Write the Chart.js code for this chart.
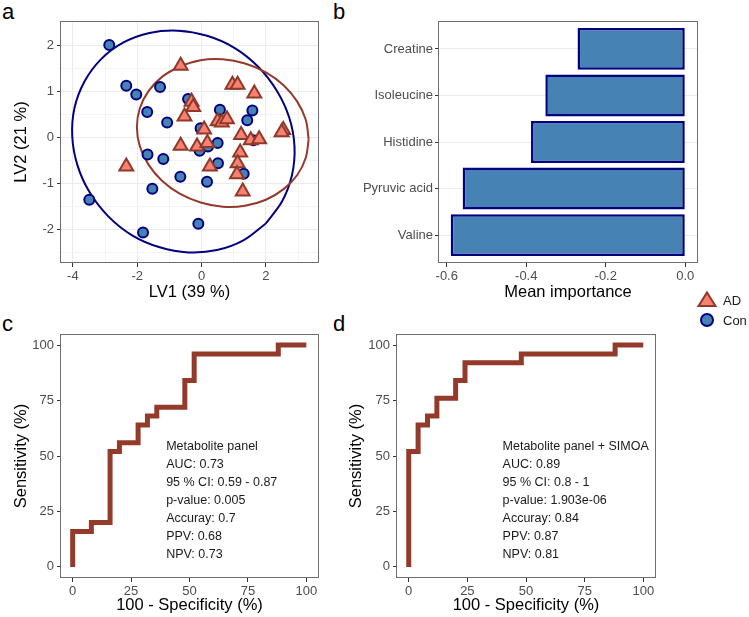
<!DOCTYPE html>
<html>
<head>
<meta charset="utf-8">
<script src="https://cdn.jsdelivr.net/npm/chart.js@4.4.1/dist/chart.umd.min.js"></script>
<style>
body { margin: 0; background: #fff; width: 749px; height: 617px; position: relative; overflow: hidden; font-family: 'Liberation Sans', Arial, sans-serif; }
canvas { position: absolute; }
.tag { position: absolute; font-size: 22px; line-height: 22px; color: #000; }
</style>
</head>
<body>
<div class="tag" style="left:2px;top:1px">a</div>
<div class="tag" style="left:333px;top:1px">b</div>
<div class="tag" style="left:2px;top:313px">c</div>
<div class="tag" style="left:333px;top:313px">d</div>

<canvas id="pls" width="335" height="310" style="left:0;top:0"></canvas>
<canvas id="vip" width="414" height="310" style="left:335px;top:0"></canvas>
<canvas id="rocC" width="335" height="307" style="left:0;top:310px"></canvas>
<canvas id="rocD" width="414" height="307" style="left:335px;top:310px"></canvas>

<svg style="position:absolute;left:695px;top:288px" width="54" height="44" font-family="Liberation Sans, Arial, sans-serif">
  <polygon points="12,4.5 20.5,18 3.5,18" fill="#FA8072" stroke="#8E3A2A" stroke-width="2"/>
  <circle cx="12" cy="32" r="6" fill="#4682B4" stroke="#000080" stroke-width="2"/>
  <text x="28" y="12" font-size="13" dominant-baseline="central" fill="#1A1A1A">AD</text>
  <text x="28" y="32" font-size="13" dominant-baseline="central" fill="#1A1A1A">Con</text>
</svg>

<script>
// ---- panel a : PLS-DA scores
const adX = [-0.65, 0.96, 1.12, 1.64, -0.31, -0.26, -0.53, 0.50, 0.63, 0.79, 0.08, 2.54, 2.49, -0.65, -0.14, 0.18, 1.23, 1.53, 1.79, 1.20, 1.12, 1.10, 0.26, 1.28, -2.34]
const adY = [1.55, 1.14, 1.14, 0.95, 0.77, 0.66, 0.45, 0.35, 0.32, 0.39, 0.17, 0.16, 0.11, -0.18, -0.20, -0.12, 0.05, -0.06, -0.04, -0.33, -0.56, -0.80, -0.63, -1.17, -0.63]
const conX = [-2.87, -2.34, -2.03, -1.29, -1.69, -1.07, -0.42, 0.57, 1.58, 1.42, -0.03, 0.50, -0.06, 0.20, -1.68, -1.19, 0.51, -0.66, 0.17, 1.31, -1.53, -3.49, -1.82, -0.10, 1.61]
const conY = [2.00, 1.12, 0.93, 1.09, 0.55, 0.32, 0.83, 0.60, 0.58, 0.37, 0.20, -0.12, -0.29, -0.20, -0.37, -0.47, -0.56, -0.85, -0.96, -0.79, -1.11, -1.35, -2.06, -1.87, -0.06]

// confidence ellipses, points read round the outline (closed)
const conEllX = [1.99, 1.30, 0.48, -0.41, -1.30, -2.16, -2.90, -3.48, -3.86, -4.02, -3.95, -3.64, -3.13, -2.44, -1.62, -0.73, 0.17, 1.02, 1.76, 2.34, 2.73, 2.89, 2.81, 2.50, 1.99]
const conEllY = [-1.87, -2.23, -2.44, -2.49, -2.38, -2.12, -1.71, -1.19, -0.60, 0.02, 0.64, 1.21, 1.69, 2.05, 2.26, 2.31, 2.20, 1.94, 1.53, 1.01, 0.42, -0.20, -0.82, -1.39, -1.87]
const adEllX = [3.33, 3.24, 2.97, 2.55, 2.00, 1.35, 0.66, -0.03, -0.68, -1.23, -1.65, -1.92, -2.01, -1.92, -1.65, -1.23, -0.68, -0.03, 0.66, 1.35, 2.00, 2.55, 2.97, 3.24, 3.33]
const adEllY = [-0.04, -0.44, -0.82, -1.12, -1.35, -1.48, -1.50, -1.41, -1.22, -0.94, -0.59, -0.19, 0.22, 0.63, 1.00, 1.31, 1.53, 1.67, 1.69, 1.60, 1.41, 1.13, 0.78, 0.38, -0.04]

const lv1Ticks = [-4, -3, -2, -1, 0, 1, 2, 3]
const lv2Ticks = [-2.5, -2, -1.5, -1, -0.5, 0, 0.5, 1, 1.5, 2, 2.5]

// ---- panel b : mean importance
const metabolites = ['Creatine', 'Isoleucine', 'Histidine', 'Pyruvic acid', 'Valine']
const importance = [-0.271, -0.352, -0.388, -0.560, -0.590]
const importanceTicks = [-0.6, -0.4, -0.2, 0]

// ---- panels c, d : ROC curves (%)
const rocTicks = [0, 25, 50, 75, 100]
const fprC = [0, 0, 8, 8, 16, 16, 20, 20, 28, 28, 32, 32, 36, 36, 48, 48, 52, 52, 88, 88, 100]
const tprC = [0, 16, 16, 20, 20, 52, 52, 56, 56, 64, 64, 68, 68, 72, 72, 84, 84, 96, 96, 100, 100]
const fprD = [0, 0, 4, 4, 8, 8, 12, 12, 20, 20, 24, 24, 48, 48, 88, 88, 100]
const tprD = [0, 52, 52, 64, 64, 68, 68, 76, 76, 84, 84, 92, 92, 96, 96, 100, 100]
const statsC = ['Metabolite panel', 'AUC: 0.73', '95 % CI: 0.59 - 0.87', 'p-value: 0.005', 'Accuray: 0.7', 'PPV: 0.68', 'NPV: 0.73']
const statsD = ['Metabolite panel + SIMOA', 'AUC: 0.89', '95 % CI: 0.8 - 1', 'p-value: 1.903e-06', 'Accuray: 0.84', 'PPV: 0.87', 'NPV: 0.81']

const FONT = "'Liberation Sans', Arial, sans-serif"
Chart.defaults.font.family = FONT
Chart.defaults.animation = false
Chart.defaults.plugins.legend.display = false
Chart.defaults.plugins.tooltip.enabled = false

const BROWN = '#943A2B'
const TICK_TXT = '#4D4D4D'
const TICK_MARK = '#333333'

const pts = (xs, ys) => xs.map((x, i) => ({ x: x, y: ys[i] }))
const fixW = w => s => { s.width = w }
const fixH = h => s => { s.height = h }
const setTicks = list => s => { s.ticks = list.map(v => ({ value: v })) }

// box round the panel, ggplot style
const frame = {
  id: 'frame',
  afterDatasetsDraw(chart) {
    const { ctx, chartArea: a } = chart
    ctx.save()
    ctx.strokeStyle = '#6E6E6E'
    ctx.lineWidth = 1
    ctx.strokeRect(Math.round(a.left) - 0.5, Math.round(a.top) + 0.5, Math.round(a.right - a.left) + 1, Math.round(a.bottom - a.top) - 1)
    ctx.restore()
  }
}

function axisTitle(text, pad) {
  return { display: true, text: text, color: '#000', font: { size: 16.5 }, padding: pad }
}

// ---- a
const isMajorX = v => v % 2 === 0
const isMajorY = v => Number.isInteger(v)

new Chart(document.getElementById('pls'), {
  type: 'scatter',
  data: {
    datasets: [
      { label: 'AD', data: pts(adX, adY), pointStyle: 'triangle', pointRadius: 8, backgroundColor: '#FA8072', borderColor: '#8E3A2A', borderWidth: 2 },
      { label: 'Con', data: pts(conX, conY), pointStyle: 'circle', pointRadius: 5, backgroundColor: '#4682B4', borderColor: '#000080', borderWidth: 2 },
      { data: pts(adEllX, adEllY), showLine: true, tension: 0.33, pointRadius: 0, borderColor: BROWN, borderWidth: 2 },
      { data: pts(conEllX, conEllY), showLine: true, tension: 0.33, pointRadius: 0, borderColor: '#000080', borderWidth: 2 }
    ]
  },
  options: {
    responsive: false,
    layout: { padding: { left: 0, right: 17, top: 21, bottom: 0 } },
    scales: {
      x: {
        min: -4.37, max: 3.62,
        afterBuildTicks: setTicks(lv1Ticks),
        afterFit: fixH(47),
        border: { display: false },
        grid: {
          color: c => isMajorX(c.tick.value) ? '#EBEBEB' : '#F3F3F3',
          tickColor: c => isMajorX(c.tick.value) ? TICK_MARK : 'rgba(0,0,0,0)',
          tickLength: 4
        },
        ticks: { color: TICK_TXT, font: { size: 13 }, padding: 2, autoSkip: false, maxRotation: 0, callback: v => isMajorX(v) ? String(v) : '' },
        title: axisTitle('LV1 (39 %)', { top: 0, bottom: 8 })
      },
      y: {
        min: -2.72, max: 2.52,
        afterBuildTicks: setTicks(lv2Ticks),
        afterFit: fixW(61),
        border: { display: false },
        grid: {
          color: c => isMajorY(c.tick.value) ? '#EBEBEB' : '#F3F3F3',
          tickColor: c => isMajorY(c.tick.value) ? TICK_MARK : 'rgba(0,0,0,0)',
          tickLength: 4
        },
        ticks: { color: TICK_TXT, font: { size: 13 }, padding: 3, autoSkip: false, callback: v => isMajorY(v) ? String(v) : '' },
        title: axisTitle('LV2 (21 %)', { top: 12, bottom: 0 })
      }
    }
  },
  plugins: [frame]
})

// ---- b
new Chart(document.getElementById('vip'), {
  type: 'bar',
  data: {
    datasets: [{
      data: importance.map((v, i) => ({ x: v, y: i })),
      backgroundColor: '#4682B4',
      borderColor: '#000080',
      borderWidth: 2.5,
      borderSkipped: false,
      categoryPercentage: 1,
      barPercentage: 0.9
    }]
  },
  options: {
    responsive: false,
    indexAxis: 'y',
    layout: { padding: { left: 0, right: 52, top: 21, bottom: 0 } },
    scales: {
      x: {
        type: 'linear',
        min: -0.6195, max: 0.0295,
        afterBuildTicks: setTicks(importanceTicks),
        afterFit: fixH(47),
        border: { display: false },
        grid: { drawOnChartArea: false, tickColor: TICK_MARK, tickLength: 4 },
        ticks: { color: TICK_TXT, font: { size: 13 }, padding: 2, autoSkip: false, maxRotation: 0, callback: v => v.toFixed(1) },
        title: axisTitle('Mean importance', { top: 0, bottom: 8 })
      },
      y: {
        type: 'linear',
        reverse: true,
        offset: false,
        min: -0.6, max: 4.6,
        afterBuildTicks: setTicks(metabolites.map((m, i) => i)),
        afterFit: fixW(104),
        border: { display: false },
        grid: { offset: false, color: '#EBEBEB', tickColor: TICK_MARK, tickLength: 4 },
        ticks: { color: TICK_TXT, font: { size: 13 }, padding: 2, autoSkip: false, callback: v => metabolites[v] }
      }
    }
  },
  plugins: [frame]
})

// ---- c, d
function statsPlugin(lines) {
  return {
    id: 'stats',
    afterDatasetsDraw(chart) {
      const { ctx, scales } = chart
      const x0 = scales.x.getPixelForValue(40)
      const y0 = scales.y.getPixelForValue(54.4)
      ctx.save()
      ctx.font = '12.5px ' + FONT
      ctx.fillStyle = '#1A1A1A'
      ctx.textBaseline = 'middle'
      lines.forEach((t, i) => ctx.fillText(t, x0, y0 + i * 18.1))
      ctx.restore()
    }
  }
}

function rocChart(id, fpr, tpr, stats, yWidth, rightPad) {
  const rocAxis = {
    min: -5, max: 105,
    afterBuildTicks: setTicks(rocTicks),
    border: { display: false },
    grid: { drawOnChartArea: false, tickColor: TICK_MARK, tickLength: 4 },
    ticks: { color: TICK_TXT, font: { size: 13 }, autoSkip: false, maxRotation: 0 }
  }
  new Chart(document.getElementById(id), {
    type: 'scatter',
    data: {
      datasets: [{
        data: pts(fpr, tpr),
        showLine: true,
        pointRadius: 0,
        borderColor: BROWN,
        borderWidth: 5,
        borderJoinStyle: 'miter'
      }]
    },
    options: {
      responsive: false,
      layout: { padding: { left: 0, right: rightPad, top: 24, bottom: 0 } },
      scales: {
        x: Object.assign({}, rocAxis, {
          afterFit: fixH(39),
          ticks: Object.assign({}, rocAxis.ticks, { padding: 2 }),
          title: axisTitle('100 - Specificity (%)', { top: 0, bottom: 2 })
        }),
        y: Object.assign({}, rocAxis, {
          afterFit: fixW(yWidth),
          ticks: Object.assign({}, rocAxis.ticks, { padding: 3 }),
          title: axisTitle('Sensitivity (%)', { top: 12, bottom: 0 })
        })
      }
    },
    plugins: [frame, statsPlugin(stats)]
  })
}

rocChart('rocC', fprC, tprC, statsC, 61, 17)
rocChart('rocD', fprD, tprD, statsD, 62, 94)
</script>
</body>
</html>
